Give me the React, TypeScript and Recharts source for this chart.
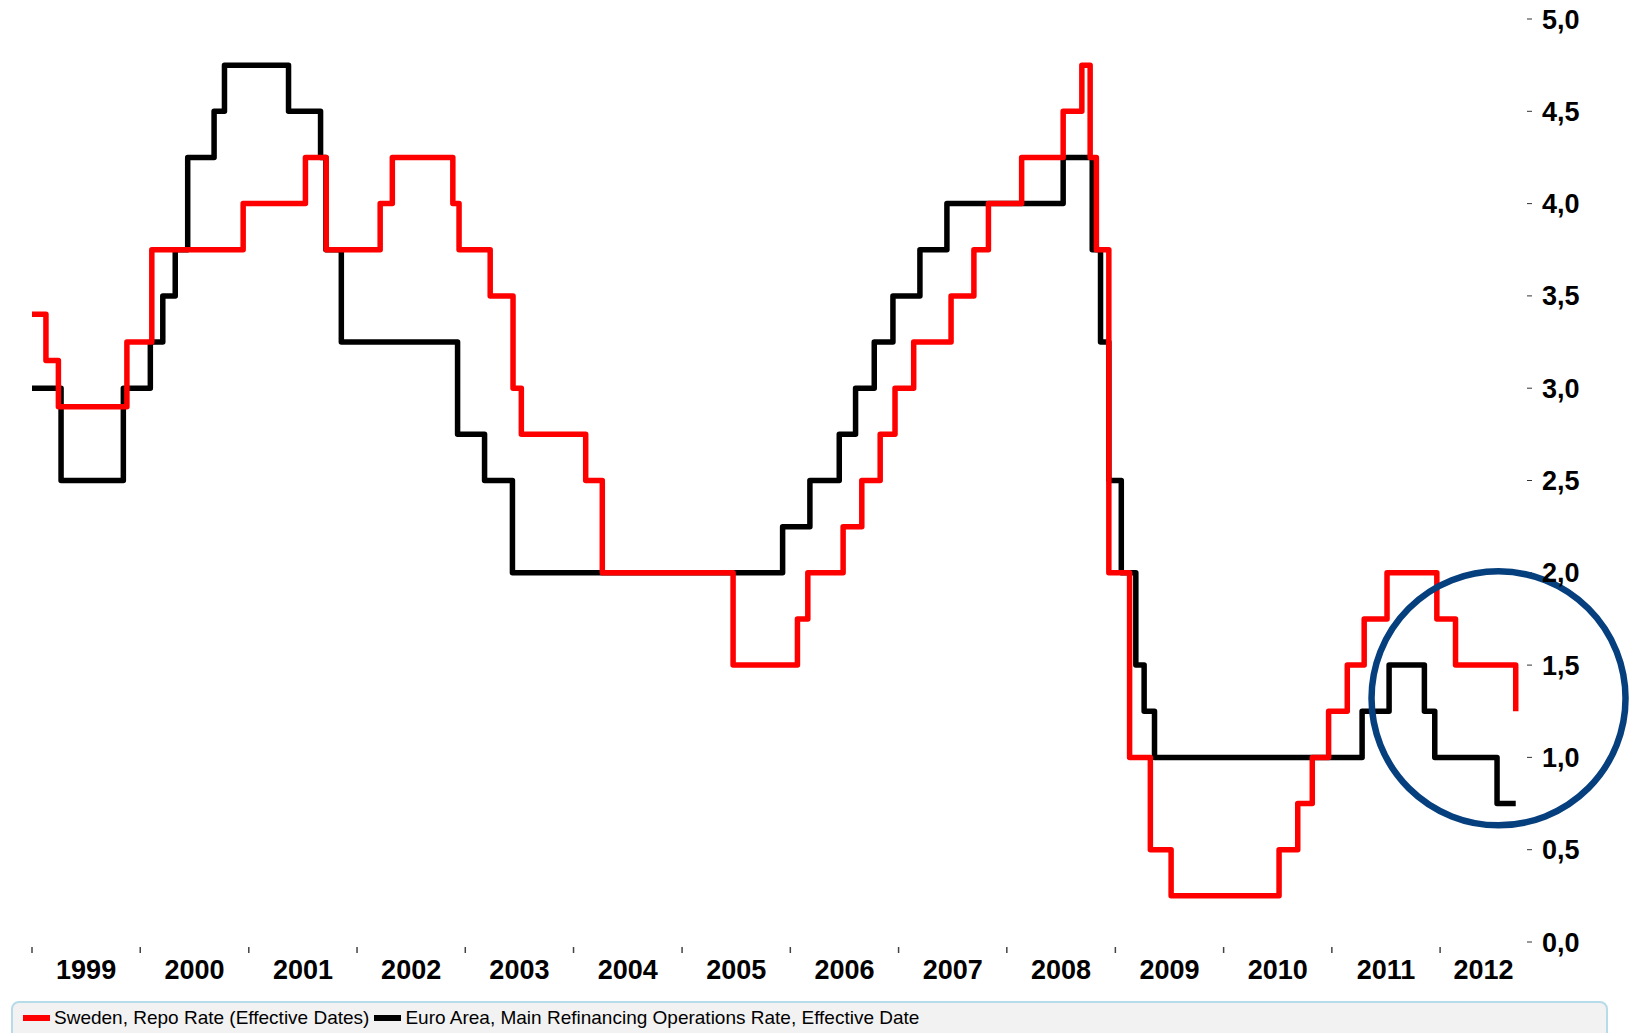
import React from "react";
import { LineChart, Line, XAxis, YAxis, ReferenceDot } from "recharts";

// Sweden, Repo Rate (effective dates)
const swedenDates = [
    "1999-01-01", "1999-02-17", "1999-03-31", "1999-11-17", "2000-02-09", "2000-12-13",
    "2001-07-11", "2001-09-19", "2002-03-20", "2002-04-30", "2002-11-20", "2002-12-11",
    "2003-03-26", "2003-06-11", "2003-07-09", "2004-02-11", "2004-04-07", "2005-06-22",
    "2006-01-25", "2006-03-01", "2006-06-28", "2006-08-30", "2006-10-31", "2006-12-20",
    "2007-02-21", "2007-06-27", "2007-09-12", "2007-10-31", "2008-02-20", "2008-07-09",
    "2008-09-10", "2008-10-08", "2008-10-29", "2008-12-10", "2009-02-18", "2009-04-29",
    "2009-07-08", "2010-07-07", "2010-09-08", "2010-10-27", "2010-12-21", "2011-02-22",
    "2011-04-20", "2011-07-06", "2011-12-21", "2012-02-22", "2012-09-12"
];
const swedenRates = [
    3.4, 3.15, 2.9, 3.25, 3.75, 4.0,
    4.25, 3.75, 4.0, 4.25, 4.0, 3.75,
    3.5, 3.0, 2.75, 2.5, 2.0, 1.5,
    1.75, 2.0, 2.25, 2.5, 2.75, 3.0,
    3.25, 3.5, 3.75, 4.0, 4.25, 4.5,
    4.75, 4.25, 3.75, 2.0, 1.0, 0.5,
    0.25, 0.5, 0.75, 1.0, 1.25, 1.5,
    1.75, 2.0, 1.75, 1.5, 1.25
];

// Euro Area, Main Refinancing Operations Rate
const euroDates = [
    "1999-01-01", "1999-04-09", "1999-11-05", "2000-02-04", "2000-03-17", "2000-04-28",
    "2000-06-09", "2000-09-06", "2000-10-11", "2001-05-15", "2001-08-31", "2001-09-18",
    "2001-11-09", "2002-12-06", "2003-03-07", "2003-06-09", "2005-12-06", "2006-03-08",
    "2006-06-15", "2006-08-09", "2006-10-11", "2006-12-13", "2007-03-14", "2007-06-13",
    "2008-07-09", "2008-10-15", "2008-11-12", "2008-12-10", "2009-01-21", "2009-03-11",
    "2009-04-08", "2009-05-13", "2011-04-13", "2011-07-13", "2011-11-09", "2011-12-14",
    "2012-07-11", "2012-09-12"
];
const euroRates = [
    3.0, 2.5, 3.0, 3.25, 3.5, 3.75,
    4.25, 4.5, 4.75, 4.5, 4.25, 3.75,
    3.25, 2.75, 2.5, 2.0, 2.25, 2.5,
    2.75, 3.0, 3.25, 3.5, 3.75, 4.0,
    4.25, 3.75, 3.25, 2.5, 2.0, 1.5,
    1.25, 1.0, 1.25, 1.5, 1.25, 1.0,
    0.75, 0.75
];

const yearStarts = [
    "1999-01-01", "2000-01-01", "2001-01-01", "2002-01-01", "2003-01-01", "2004-01-01", "2005-01-01",
    "2006-01-01", "2007-01-01", "2008-01-01", "2009-01-01", "2010-01-01", "2011-01-01", "2012-01-01"
];
const yearLabels = [
    "1999", "2000", "2001", "2002", "2003", "2004", "2005",
    "2006", "2007", "2008", "2009", "2010", "2011", "2012"
];
const axisStart = "1999-01-01";
const axisEnd = "2012-10-20";
const yTicks = [0, 0.5, 1, 1.5, 2, 2.5, 3, 3.5, 4, 4.5, 5];

// the circled area
const circleDate = "2012-07-16";
const circleRate = 1.32;

const FONT = "'Liberation Sans', Arial, sans-serif";

const toMs = (d: string) => Date.parse(d + "T00:00:00Z");

const swedenData = swedenDates.map((d, i) => ({ t: toMs(d), v: swedenRates[i] }));
const euroData = euroDates.map((d, i) => ({ t: toMs(d), v: euroRates[i] }));

const boundaryTicks = yearStarts.map(toMs);
// labels sit halfway between a year start and the next one (or the axis end)
const labelTicks = boundaryTicks.map((t, i) =>
    (t + (i + 1 < boundaryTicks.length ? boundaryTicks[i + 1] : toMs(axisEnd))) / 2
);
const allTicks = [...boundaryTicks, ...labelTicks].sort((a, b) => a - b);

const YearTick = (props: any) => {
    const { x, y, payload } = props;
    const idx = labelTicks.indexOf(payload.value);
    if (idx < 0) {
        return <line x1={x} x2={x} y1={y + 5} y2={y + 11} stroke="#444" strokeWidth={1.5} />;
    }
    return (
        <text x={x} y={y + 37} textAnchor="middle" fontSize={27} fontWeight="bold" fontFamily={FONT} fill="#000">
            {yearLabels[idx]}
        </text>
    );
};

const LegendBox = () => (
    <div
        style={{
            position: "absolute",
            left: 11,
            top: 1001,
            width: 1597,
            height: 40,
            background: "#f2f2f2",
            border: "2px solid #b7dce9",
            borderRadius: 8,
            boxSizing: "border-box",
            fontFamily: FONT,
            fontSize: 19,
            color: "#000",
        }}
    >
        <div style={{ display: "flex", alignItems: "center", height: 30, paddingLeft: 10, whiteSpace: "nowrap" }}>
            <span style={{ display: "inline-block", width: 27, height: 6, background: "#ff0000", marginRight: 4 }} />
            <span>Sweden, Repo Rate (Effective Dates)</span>
            <span style={{ display: "inline-block", width: 27, height: 6, background: "#000", marginLeft: 5, marginRight: 4 }} />
            <span>Euro Area, Main Refinancing Operations Rate, Effective Date</span>
        </div>
    </div>
);

export default function App() {
    return (
        <div style={{ position: "absolute", left: 0, top: 0, width: 1630, height: 1033, overflow: "hidden", background: "#fff" }}>
            <LineChart width={1630} height={1000} margin={{ top: 19, right: 0, left: 32, bottom: 0 }}>
                <XAxis
                    dataKey="t"
                    type="number"
                    domain={[toMs(axisStart), toMs(axisEnd)]}
                    ticks={allTicks}
                    interval={0}
                    tick={<YearTick />}
                    tickLine={false}
                    axisLine={false}
                    tickSize={0}
                    tickMargin={0}
                    height={58}
                    allowDataOverflow
                />
                <YAxis
                    orientation="right"
                    domain={[0, 5]}
                    ticks={yTicks}
                    interval={0}
                    width={103}
                    axisLine={false}
                    tickLine={{ stroke: "#333" }}
                    tickSize={5}
                    tickMargin={10}
                    tickFormatter={(v: number) => v.toFixed(1).replace(".", ",")}
                    tick={{ fontSize: 27, fontWeight: "bold", fill: "#000", fontFamily: FONT }}
                />
                <Line
                    data={euroData}
                    dataKey="v"
                    type="stepAfter"
                    stroke="#000"
                    strokeWidth={5.5}
                    strokeLinejoin="round"
                    dot={false}
                    activeDot={false}
                    isAnimationActive={false}
                />
                <Line
                    data={swedenData}
                    dataKey="v"
                    type="stepAfter"
                    stroke="#ff0000"
                    strokeWidth={5.5}
                    strokeLinejoin="round"
                    dot={false}
                    activeDot={false}
                    isAnimationActive={false}
                />
                <ReferenceDot
                    x={toMs(circleDate)}
                    y={circleRate}
                    r={127}
                    fill="none"
                    stroke="#063f7d"
                    strokeWidth={6.5}
                    ifOverflow="visible"
                />
            </LineChart>
            <LegendBox />
        </div>
    );
}
